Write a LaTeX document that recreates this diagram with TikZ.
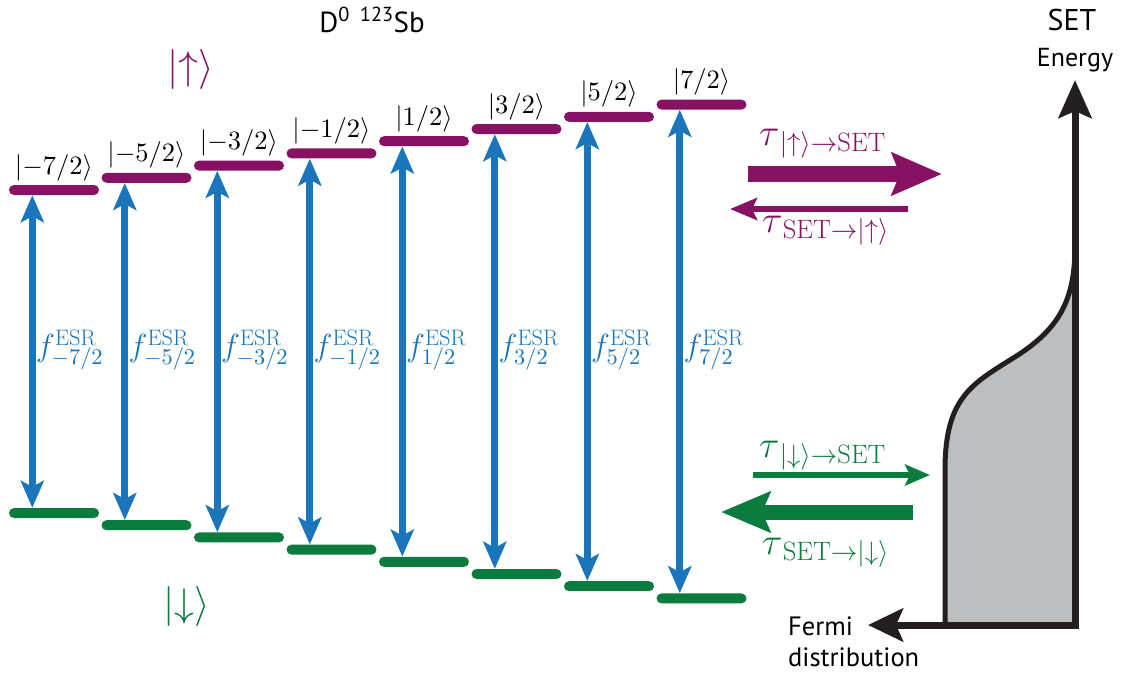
\RequirePackage{fix-cm}
\documentclass[tikz,border=0pt]{standalone}
\usepackage{fontspec}
\DeclareFontShape{OT1}{cmr}{m}{n}{<-> cmr10}{}
\newfontfamily\sansf{PT Sans}
\usetikzlibrary{arrows.meta,calc}
\definecolor{upc}{RGB}{135,18,100}
\definecolor{dnc}{RGB}{11,123,62}
\definecolor{esrc}{RGB}{26,117,187}
\definecolor{fermig}{RGB}{188,190,192}
\definecolor{axc}{RGB}{35,31,32}
\def\negs{{-}}
\def\upa{\mathord{\uparrow}}
\def\dna{\mathord{\downarrow}}
\tikzset{
  level/.style={rectangle, minimum width=90pt, minimum height=10pt, inner sep=0pt, rounded corners=5pt},
  uplevel/.style={level, fill=upc},
  dnlevel/.style={level, fill=dnc},
  ketlbl/.style={font=\fontsize{26.5}{30}\selectfont, inner sep=0pt},
  bigket/.style={font=\fontsize{40}{48}\selectfont, inner sep=0pt},
  esrarrow/.style={draw=esrc, line width=7pt, {Stealth[length=27pt,width=23pt,inset=6pt]}-{Stealth[length=27pt,width=23pt,inset=6pt]}},
  esrlbl/.style={text=esrc, font=\fontsize{32}{36}\selectfont, inner sep=0pt, anchor=west},
  taulbl/.style={font=\fontsize{38}{42}\selectfont, inner sep=0pt, anchor=base west},
  sanslbl/.style={font=\sansf\fontsize{29}{33}\selectfont, inner sep=0pt},
  axis/.style={draw=axc, line width=7pt, line join=miter},
}
\begin{document}
\begin{tikzpicture}[x=1pt, y=-1pt]
\useasboundingbox (0,0) rectangle (1123,673);

% titles
\node[sanslbl] (title) at (372,20) {D\textsuperscript{0}\hspace{0.35em}\textsuperscript{123}Sb};
\node[sanslbl, font=\sansf\fontsize{30}{34}\selectfont] (set) at (1072,20) {SET};
\node[bigket, text=upc] (upket) at (191,69) {$|\upa\rangle$};
\node[bigket, text=dnc] (dnket) at (187,606) {$|\dna\rangle$};

% levels, kets, ESR arrows
\foreach \i/\lab in {0/\negs7,1/\negs5,2/\negs3,3/\negs1,4/1,5/3,6/5,7/7}{
  \pgfmathsetmacro\xc{54+92.5*\i}
  \pgfmathsetmacro\yu{190-12.2*\i}
  \pgfmathsetmacro\yd{513+12.2*\i}
  \pgfmathsetmacro\xl{36+92.5*\i}
  \node[uplevel] (u\i) at (\xc,\yu) {};
  \node[dnlevel] (d\i) at (\xc,\yd) {};
  \node[ketlbl] (k\i) at (\xc,\yu-22.5) {$|\lab/2\rangle$};
  \draw[esrarrow] ([xshift=23.5pt]u\i.south west) -- ([xshift=23.5pt]d\i.north west);
  \node[esrlbl] (f\i) at (\xl,350) {$f^{\mathrm{ESR}}_{\lab/2}$};
}

% tunnelling arrows
\coordinate (ua) at (748,174); \coordinate (ub) at (942,174);
\coordinate (uc) at (908,209); \coordinate (ud) at (730,209);
\coordinate (da) at (753,475); \coordinate (db) at (930,475);
\coordinate (dc) at (913,512); \coordinate (dd) at (721,512);
\draw[upc, line width=16pt, -{Stealth[length=50pt,width=42pt,inset=8pt]}] (ua) -- (ub);
\draw[upc, line width=5.5pt, -{Stealth[length=27pt,width=22pt,inset=5pt]}] (uc) -- (ud);
\draw[dnc, line width=5.5pt, -{Stealth[length=25pt,width=21pt,inset=5pt]}] (da) -- (db);
\draw[dnc, line width=15pt, -{Stealth[length=49pt,width=40pt,inset=8pt]}] (dc) -- (dd);
\node[taulbl, text=upc] (t1) at (759,145) {$\tau_{\,|\upa\rangle\to\mathrm{SET}}$};
\node[taulbl, text=upc] (t2) at (762,232) {$\tau_{\,\mathrm{SET}\to|\upa\rangle}$};
\node[taulbl, text=dnc] (t3) at (759,457) {$\tau_{\,|\dna\rangle\to\mathrm{SET}}$};
\node[taulbl, text=dnc] (t4) at (762,554) {$\tau_{\,\mathrm{SET}\to|\dna\rangle}$};

% Fermi distribution
\coordinate (corner) at (1075,625);
\coordinate (etip) at (1075,80);
\coordinate (ftip) at (868,625);
\coordinate (fb) at (945,622);
\coordinate (ft) at (1075,245);
\fill[fermig] (fb) -- (945,470) .. controls (945,400) and (970,385) .. (1010,360)
   .. controls (1060,330) and (1075,300) .. (ft) -- (1075,622) -- cycle;
\draw[axc, line width=5pt] (fb) -- (945,470) .. controls (945,400) and (970,385) .. (1010,360)
   .. controls (1060,330) and (1075,300) .. (ft);
\draw[axis, {Stealth[length=35pt,width=33pt,inset=7pt]}-{Stealth[length=38pt,width=33pt,inset=7pt]}] (ftip) -- (corner) -- (etip);
\node[sanslbl, font=\sansf\fontsize{26}{30}\selectfont] (energy) at (1075,60) {Energy};
\node[sanslbl, font=\sansf\fontsize{26.5}{30}\selectfont, anchor=west] (fermi) at (788,626) {Fermi};
\node[sanslbl, font=\sansf\fontsize{26.5}{30}\selectfont, anchor=west] (distr) at (788,657) {distribution};
\end{tikzpicture}
\end{document}
